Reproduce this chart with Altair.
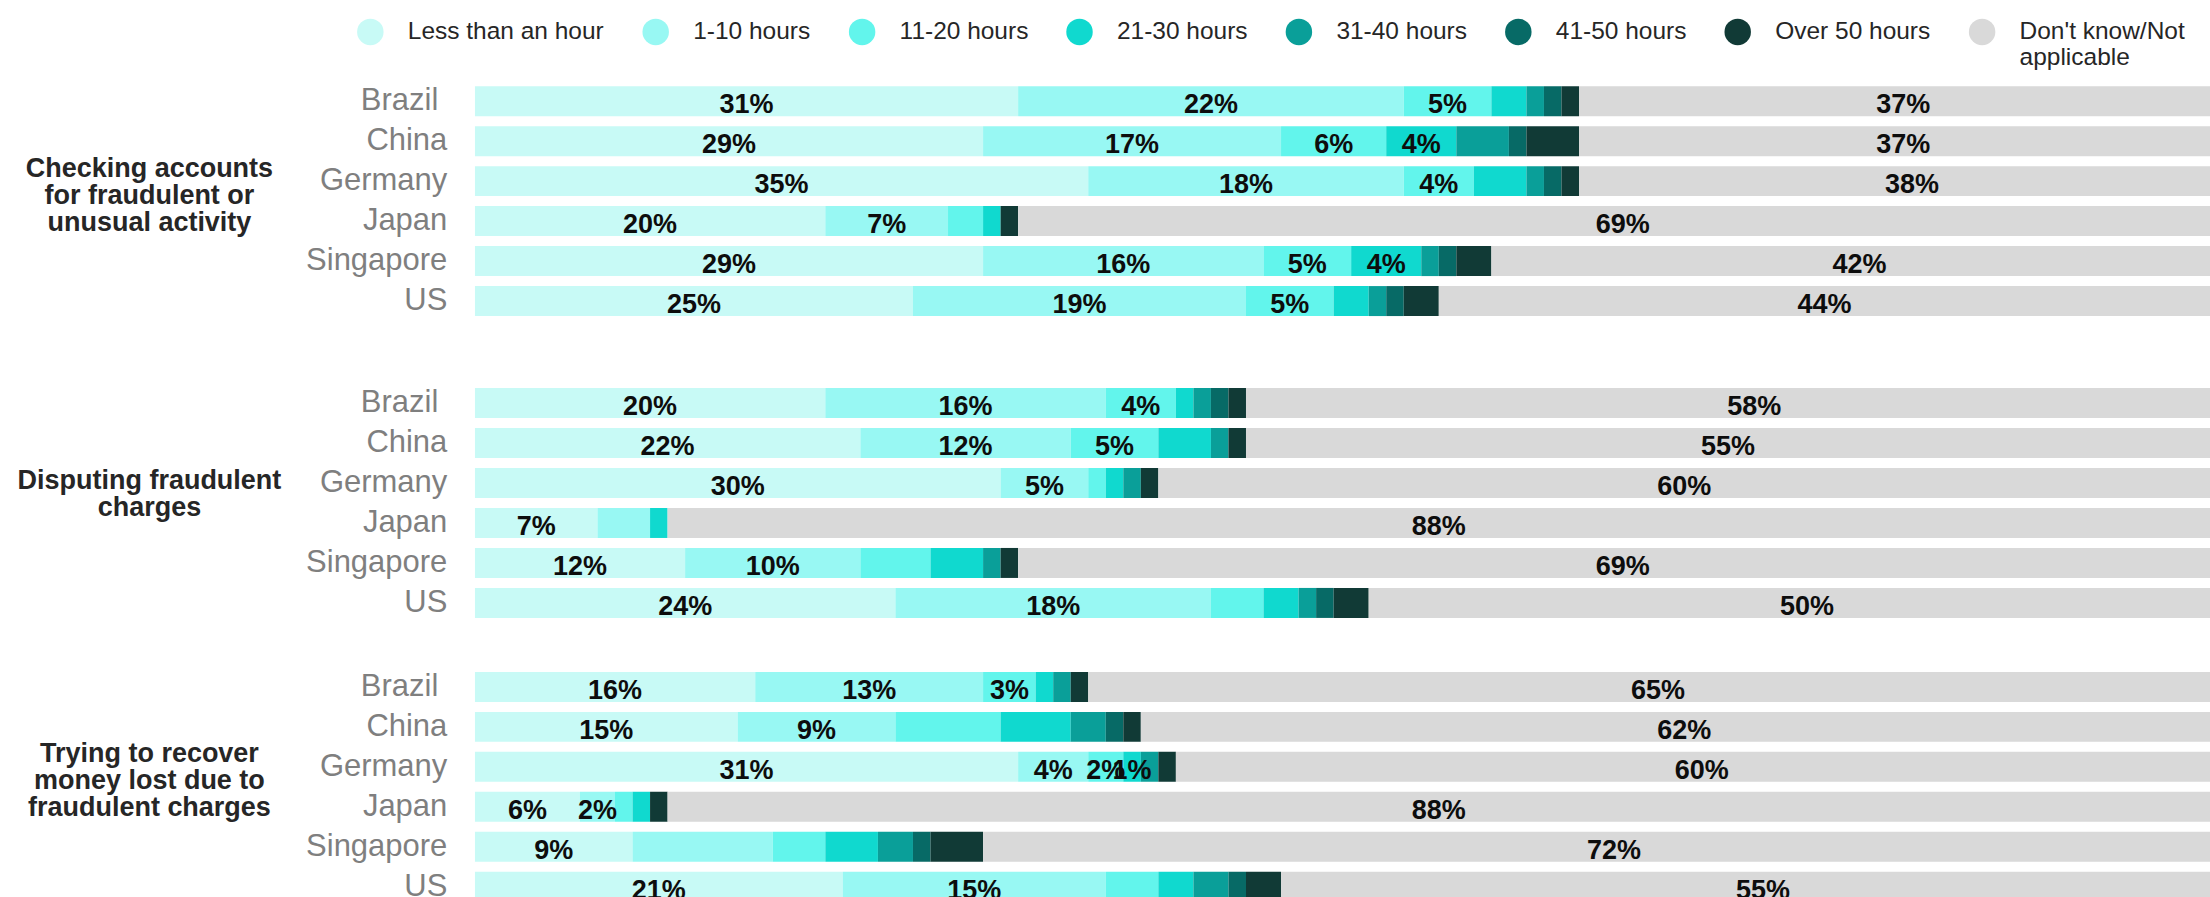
import altair as alt
import pandas as pd

FONT = "Liberation Sans"

HOURS = [
    "Less than an hour", "1-10 hours", "11-20 hours", "21-30 hours",
    "31-40 hours", "41-50 hours", "Over 50 hours", "Don't know/Not applicable",
]
COLORS = ["#c8faf6", "#98f8f3", "#62f5ec", "#10d9cf",
          "#0a9f99", "#076a66", "#113a36", "#d9d9d9"]
COUNTRIES = ["Brazil", "China", "Germany", "Japan", "Singapore", "US"]

# Share of respondents (%) per time bucket, in HOURS order, one list per country
checking = {
    "Brazil":    [31, 22, 5, 2, 1, 1, 1, 37],
    "China":     [29, 17, 6, 4, 3, 1, 3, 37],
    "Germany":   [35, 18, 4, 3, 1, 1, 1, 38],
    "Japan":     [20, 7, 2, 1, 0, 0, 1, 69],
    "Singapore": [29, 16, 5, 4, 1, 1, 2, 42],
    "US":        [25, 19, 5, 2, 1, 1, 2, 44],
}
disputing = {
    "Brazil":    [20, 16, 4, 1, 1, 1, 1, 58],
    "China":     [22, 12, 5, 3, 1, 0, 1, 55],
    "Germany":   [30, 5, 1, 1, 1, 0, 1, 60],
    "Japan":     [7, 3, 0, 1, 0, 0, 0, 88],
    "Singapore": [12, 10, 4, 3, 1, 0, 1, 69],
    "US":        [24, 18, 3, 2, 1, 1, 2, 50],
}
recovering = {
    "Brazil":    [16, 13, 3, 1, 1, 0, 1, 65],
    "China":     [15, 9, 6, 4, 2, 1, 1, 62],
    "Germany":   [31, 4, 2, 1, 1, 0, 1, 60],
    "Japan":     [6, 2, 1, 1, 0, 0, 1, 88],
    "Singapore": [9, 8, 3, 3, 2, 1, 3, 72],
    "US":        [21, 15, 3, 2, 2, 1, 2, 55],
}

# How many leading segments carry a value label (the last bucket is always labelled)
checking_labelled = [3, 4, 3, 2, 4, 3]
disputing_labelled = [3, 3, 2, 1, 2, 2]
recovering_labelled = [3, 2, 4, 2, 1, 2]

checking_title = ["Checking accounts", "for fraudulent or", "unusual activity"]
disputing_title = ["Disputing fraudulent", "charges"]
recovering_title = ["Trying to recover", "money lost due to", "fraudulent charges"]


def to_frame(values, labelled):
    rows = []
    for country, n in zip(COUNTRIES, labelled):
        for i, (series, v) in enumerate(zip(HOURS, values[country])):
            rows.append({
                "country": country,
                "series": series,
                "order": i,
                "value": v,
                "show": bool(i < n or i == len(HOURS) - 1),
            })
    return pd.DataFrame(rows)


# Every legend label gets two lines so all entries share one height
legend = alt.Legend(
    title=None, orient="none", legendX=-118, legendY=-63,
    direction="horizontal", symbolType="circle", symbolSize=700,
    symbolStrokeWidth=0, labelFont=FONT, labelFontSize=24.5,
    labelColor="#262626", labelOffset=24, columnPadding=37.5, labelLimit=400,
    labelExpr='datum.label === "Don\'t know/Not applicable" '
              '? ["Don\'t know/Not", "applicable"] : [datum.label, ""]',
)

color = alt.Color("series:N", scale=alt.Scale(domain=HOURS, range=COLORS),
                  sort=HOURS, legend=legend)


def panel(values, labelled, title_lines, title_y, height):
    base = alt.Chart(to_frame(values, labelled)).transform_stack(
        stack="value", groupby=["country"], as_=["x0", "x1"],
        sort=[alt.SortField("order", order="ascending")],
    ).transform_calculate(mid="(datum.x0 + datum.x1) / 2")

    y = alt.Y(
        "country:N", sort=COUNTRIES,
        scale=alt.Scale(range=[0, 240], paddingInner=0.25, paddingOuter=0.125),
        axis=alt.Axis(
            title=title_lines, titleAngle=0, titleAlign="center",
            titleBaseline="middle", titleX=-326, titleY=title_y,
            titleFont=FONT, titleFontSize=27, titleFontWeight="bold",
            titleColor="#262626", titleLineHeight=27,
            labelFont=FONT, labelFontSize=31, labelColor="#7f7f7f",
            labelPadding={"condition": {"test": "datum.value === 'Brazil'", "value": 37},
                          "value": 28},
            ticks=False, domain=False, grid=False,
        ),
    )

    bars = base.mark_bar(clip=True).encode(
        x=alt.X("x0:Q", scale=alt.Scale(domain=[0, 99], nice=False), axis=None),
        x2="x1:Q",
        y=y,
        color=color,
    )

    labels = base.transform_filter("datum.show").transform_calculate(
        label="format(datum.value, 'd') + '%'"
    ).mark_text(
        font=FONT, fontSize=27, fontWeight="bold", color="#0d0d0d",
        align="center", baseline="middle", dy=4, clip=True,
    ).encode(
        x="mid:Q",
        y=alt.Y("country:N", sort=COUNTRIES),
        text="label:N",
    )

    return alt.layer(bars, labels).properties(width=1736, height=height)


chart = alt.vconcat(
    panel(checking, checking_labelled, checking_title, 87, 302),
    panel(disputing, disputing_labelled, disputing_title, 98, 284),
    panel(recovering, recovering_labelled, recovering_title, 87, 231),
    spacing=0,
).properties(
    padding={"left": 17, "top": 18, "right": 0, "bottom": 0},
).configure_view(stroke=None)

chart.save("out.html", embed_options={"renderer": "svg", "actions": False})
